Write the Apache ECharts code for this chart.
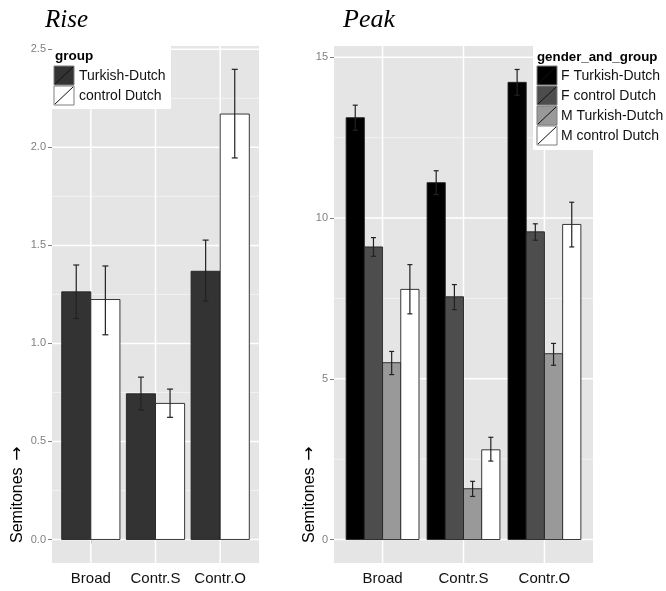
<!DOCTYPE html>
<html>
<head>
<meta charset="utf-8">
<script src="https://cdn.jsdelivr.net/npm/echarts@6/dist/echarts.min.js"></script>
<style>html,body{margin:0;padding:0;background:#fff}#c{width:666px;height:591px}</style>
</head>
<body>
<div id="c"></div>
<script>
// ---------- data ----------
const categories = ['Broad', 'Contr.S', 'Contr.O'];
const riseGroups = ['Turkish-Dutch', 'control Dutch'];
const peakGroups = ['F Turkish-Dutch', 'F control Dutch', 'M Turkish-Dutch', 'M control Dutch'];

const riseTD = [1.263, 0.743, 1.368];
const riseTDLow = [1.127, 0.660, 1.216];
const riseTDHigh = [1.400, 0.828, 1.527];
const riseCD = [1.224, 0.694, 2.170];
const riseCDLow = [1.044, 0.623, 1.946];
const riseCDHigh = [1.395, 0.767, 2.398];

const peakFTD = [13.12, 11.10, 14.22];
const peakFTDLow = [12.73, 10.73, 13.82];
const peakFTDHigh = [13.51, 11.47, 14.62];
const peakFCD = [9.10, 7.55, 9.57];
const peakFCDLow = [8.81, 7.15, 9.31];
const peakFCDHigh = [9.39, 7.93, 9.82];
const peakMTD = [5.50, 1.58, 5.78];
const peakMTDLow = [5.13, 1.34, 5.42];
const peakMTDHigh = [5.85, 1.81, 6.10];
const peakMCD = [7.78, 2.79, 9.80];
const peakMCDLow = [7.02, 2.44, 9.10];
const peakMCDHigh = [8.55, 3.18, 10.49];

const riseTicks = [0, 0.5, 1.0, 1.5, 2.0, 2.5];
const riseMinor = [0.25, 0.75, 1.25, 1.75, 2.25];
const peakTicks = [0, 5, 10, 15];
const peakMinor = [2.5, 7.5, 12.5];
const catPos = [1, 2, 3];

// ---------- styles ----------
const riseColors = ['#333333', '#ffffff'];
const peakColors = ['#000000', '#4d4d4d', '#999999', '#ffffff'];
const FONT = '"Liberation Sans", Arial, sans-serif';

function rows(mean, low, high) {
  return mean.map((v, i) => [catPos[i], v, low[i], high[i]]);
}

function barSeries(idx, data, offset, width, color) {
  return {
    type: 'custom', xAxisIndex: idx, yAxisIndex: idx, z: 3,
    data: data,
    renderItem: function (params, api) {
      const x = api.value(0), v = api.value(1);
      const p0 = api.coord([x + offset - width / 2, v]);
      const p1 = api.coord([x + offset + width / 2, 0]);
      return {
        type: 'rect',
        shape: { x: p0[0], y: p0[1], width: p1[0] - p0[0], height: p1[1] - p0[1] },
        style: { fill: color, stroke: '#222222', lineWidth: 0.9 }
      };
    }
  };
}

function errSeries(idx, data, offset, cap) {
  return {
    type: 'custom', xAxisIndex: idx, yAxisIndex: idx, z: 4,
    data: data,
    renderItem: function (params, api) {
      const x = api.value(0) + offset;
      const lo = api.coord([x, api.value(2)]);
      const hi = api.coord([x, api.value(3)]);
      const st = { stroke: '#222222', lineWidth: 1.2 };
      return {
        type: 'group',
        children: [
          { type: 'line', shape: { x1: lo[0], y1: lo[1], x2: hi[0], y2: hi[1] }, style: st },
          { type: 'line', shape: { x1: lo[0] - cap, y1: lo[1], x2: lo[0] + cap, y2: lo[1] }, style: st },
          { type: 'line', shape: { x1: hi[0] - cap, y1: hi[1], x2: hi[0] + cap, y2: hi[1] }, style: st }
        ]
      };
    }
  };
}

function hLines(idx, vals, color, w) {
  return {
    type: 'custom', xAxisIndex: idx, yAxisIndex: idx, z: 1, silent: true,
    data: vals.map(v => [2, v]),
    renderItem: function (params, api) {
      const cs = params.coordSys;
      const p = api.coord([2, api.value(1)]);
      return { type: 'line', shape: { x1: cs.x, y1: p[1], x2: cs.x + cs.width, y2: p[1] }, style: { stroke: color, lineWidth: w } };
    }
  };
}
function vLines(idx, vals, color, w) {
  return {
    type: 'custom', xAxisIndex: idx, yAxisIndex: idx, z: 1, silent: true,
    data: vals.map(v => [v, 0]),
    renderItem: function (params, api) {
      const cs = params.coordSys;
      const p = api.coord([api.value(0), 0]);
      return { type: 'line', shape: { x1: p[0], y1: cs.y, x2: p[0], y2: cs.y + cs.height }, style: { stroke: color, lineWidth: w } };
    }
  };
}

function xAxisCfg(idx) {
  return {
    type: 'value', gridIndex: idx, min: 0.4, max: 3.6,
    axisLine: { show: false },
    splitLine: { show: false },
    axisTick: { show: true, customValues: catPos, length: 4, lineStyle: { color: '#7f7f7f', width: 1 } },
    axisLabel: {
      customValues: catPos, margin: 8,
      formatter: v => categories[Math.round(v) - 1] || '',
      color: '#111111', fontSize: 15, fontFamily: FONT
    }
  };
}
function yAxisCfg(idx, min, max, ticks, fmt) {
  return {
    type: 'value', gridIndex: idx, min: min, max: max,
    axisLine: { show: false },
    splitLine: { show: false },
    axisTick: { show: true, customValues: ticks, length: 4, lineStyle: { color: '#7f7f7f', width: 1 } },
    axisLabel: { customValues: ticks, margin: 6, formatter: fmt, color: '#7f7f7f', fontSize: 11, fontFamily: FONT }
  };
}

const riseTDRows = rows(riseTD, riseTDLow, riseTDHigh);
const riseCDRows = rows(riseCD, riseCDLow, riseCDHigh);
const peakRows = [
  rows(peakFTD, peakFTDLow, peakFTDHigh),
  rows(peakFCD, peakFCDLow, peakFCDHigh),
  rows(peakMTD, peakMTDLow, peakMTDHigh),
  rows(peakMCD, peakMCDLow, peakMCDHigh)
];
const peakOffsets = [-0.3375, -0.1125, 0.1125, 0.3375];

const series = [
  hLines(0, riseMinor, '#f2f2f2', 1), hLines(0, riseTicks, '#ffffff', 1.5), vLines(0, catPos, '#ffffff', 1.5),
  hLines(1, peakMinor, '#f2f2f2', 1), hLines(1, peakTicks, '#ffffff', 1.5), vLines(1, catPos, '#ffffff', 1.5),
  barSeries(0, riseTDRows, -0.225, 0.45, riseColors[0]),
  barSeries(0, riseCDRows, 0.225, 0.45, riseColors[1]),
  errSeries(0, riseTDRows, -0.225, 3),
  errSeries(0, riseCDRows, 0.225, 3)
];
peakRows.forEach((r, i) => series.push(barSeries(1, r, peakOffsets[i], 0.225, peakColors[i])));
peakRows.forEach((r, i) => series.push(errSeries(1, r, peakOffsets[i], 2.5)));

// ---------- legends / titles as graphics ----------
function legendKeys(x0, y0, labels, colors, textX) {
  const out = [];
  labels.forEach((lab, i) => {
    const y = y0 + i * 20;
    out.push({ type: 'rect', shape: { x: x0, y: y, width: 20, height: 19 }, style: { fill: colors[i], stroke: '#7f7f7f', lineWidth: 1 }, z: 20 });
    out.push({ type: 'line', shape: { x1: x0 + 1, y1: y + 18, x2: x0 + 19, y2: y + 1 }, style: { stroke: '#111111', lineWidth: 1 }, z: 21 });
    out.push({ type: 'text', x: textX, y: y + 10, style: { text: lab, fontSize: 14, fontFamily: FONT, fill: '#111111', textVerticalAlign: 'middle', verticalAlign: 'middle' }, z: 21 });
  });
  return out;
}

function yTitle(x) {
  return {
    type: 'text', x: x, y: 543, rotation: Math.PI / 2,
    style: {
      text: '{s|Semitones}  {a|\u2192}',
      align: 'left', textAlign: 'left', verticalAlign: 'middle', textVerticalAlign: 'middle',
      rich: {
        s: { fontSize: 16, fontFamily: FONT, fill: '#000', color: '#000' },
        a: { fontSize: 17, fontFamily: '"DejaVu Sans", sans-serif', fill: '#000', color: '#000' }
      }
    }
  };
}

const graphics = [
  { type: 'text', x: 45, y: 33, style: { text: 'Rise', font: 'italic 25px "Liberation Serif", "Times New Roman", serif', fill: '#000', verticalAlign: 'bottom', textVerticalAlign: 'bottom' } },
  { type: 'text', x: 343, y: 33, style: { text: 'Peak', font: 'italic 26px "Liberation Serif", "Times New Roman", serif', fill: '#000', verticalAlign: 'bottom', textVerticalAlign: 'bottom' } },
  // left legend
  { type: 'rect', shape: { x: 52, y: 46, width: 119, height: 63 }, style: { fill: '#ffffff' }, z: 19 },
  { type: 'text', x: 55, y: 56, style: { text: 'group', font: 'bold 13.5px "Liberation Sans", Arial, sans-serif', fill: '#000', textVerticalAlign: 'middle', verticalAlign: 'middle' }, z: 21 },
  // right legend
  { type: 'rect', shape: { x: 533, y: 46, width: 133, height: 104 }, style: { fill: '#ffffff' }, z: 19 },
  { type: 'text', x: 537, y: 57, style: { text: 'gender_and_group', font: 'bold 13.3px "Liberation Sans", Arial, sans-serif', fill: '#000', textVerticalAlign: 'middle', verticalAlign: 'middle' }, z: 21 },
  yTitle(18),
  yTitle(310)
].concat(legendKeys(54, 66, riseGroups, riseColors, 79))
 .concat(legendKeys(537, 66, peakGroups, peakColors, 561));

const chart = echarts.init(document.getElementById('c'), null, { renderer: 'canvas' });
chart.setOption({
  animation: false,
  backgroundColor: '#ffffff',
  grid: [
    { left: 52, top: 46, width: 207, height: 517, show: true, backgroundColor: '#e5e5e5', borderWidth: 0, containLabel: false },
    { left: 334, top: 46, width: 259, height: 517, show: true, backgroundColor: '#e5e5e5', borderWidth: 0, containLabel: false }
  ],
  xAxis: [xAxisCfg(0), xAxisCfg(1)],
  yAxis: [
    yAxisCfg(0, -0.12, 2.517, riseTicks, v => v.toFixed(1)),
    yAxisCfg(1, -0.73, 15.35, peakTicks, v => String(v))
  ],
  series: series,
  graphic: graphics
});
</script>
</body>
</html>
